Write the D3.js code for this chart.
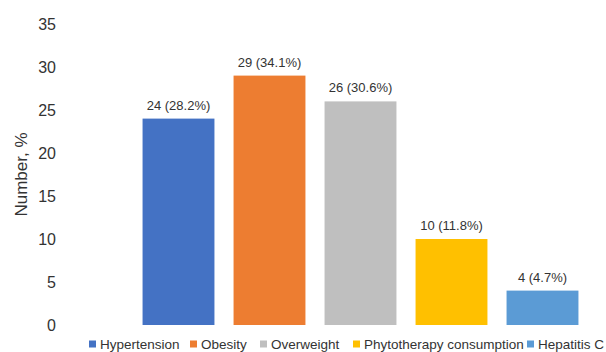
<!DOCTYPE html>
<html>
<head>
<meta charset="utf-8">
<script src="https://cdn.jsdelivr.net/npm/d3@7"></script>
<style>
  body { margin: 0; background: #fff; }
  svg text { font-family: "Liberation Sans", Arial, Helvetica, sans-serif; fill: #333; }
</style>
</head>
<body>
<svg id="drawing_region"></svg>
<script>
// data
const categories = ['Hypertension', 'Obesity', 'Overweight', 'Phytotherapy consumption', 'Hepatitis C'];
const counts = [24, 29, 26, 10, 4];
const percents = ['28.2%', '34.1%', '30.6%', '11.8%', '4.7%'];
const colors = ['#4472C4', '#ED7D31', '#BFBFBF', '#FFC000', '#5B9BD5'];
const yTicks = [0, 5, 10, 15, 20, 25, 30, 35];

const config = {
    width: 606,
    height: 352,
    plotLeft: 133,
    plotRight: 588,
    plotTop: 24,
    plotBottom: 325,
    legendY: 344,
    legendX: [89, 190, 260, 353, 527]
};

const svg = d3.select('#drawing_region')
    .attr('width', config.width)
    .attr('height', config.height);

const x = d3.scaleBand()
    .domain(categories)
    .range([config.plotLeft, config.plotRight])
    .paddingInner(0.21)
    .paddingOuter(0.105);

const y = d3.scaleLinear()
    .domain([0, 35])
    .range([config.plotBottom, config.plotTop]);

// y axis labels, no line
const yAxis = d3.axisLeft(y).tickValues(yTicks).tickSize(0).tickPadding(0);
const yg = svg.append('g')
    .attr('transform', 'translate(56,0)')
    .call(yAxis);
yg.select('.domain').remove();
yg.selectAll('text')
    .style('font-size', '16px')
    .style('font-family', '"Liberation Sans", Arial, sans-serif')
    .attr('fill', '#333');

svg.append('text')
    .attr('transform', `translate(27,${(config.plotTop + config.plotBottom) / 2}) rotate(-90)`)
    .attr('text-anchor', 'middle')
    .style('font-size', '17px')
    .text('Number, %');

// bars
svg.selectAll('rect.bar')
    .data(categories)
    .enter()
    .append('rect')
    .attr('class', 'bar')
    .attr('x', d => x(d))
    .attr('width', x.bandwidth())
    .attr('y', (d, i) => y(counts[i]))
    .attr('height', (d, i) => y(0) - y(counts[i]))
    .attr('fill', (d, i) => colors[i]);

svg.selectAll('text.val')
    .data(categories)
    .enter()
    .append('text')
    .attr('class', 'val')
    .attr('x', d => x(d) + x.bandwidth() / 2)
    .attr('y', (d, i) => y(counts[i]) - 9)
    .attr('text-anchor', 'middle')
    .style('font-size', '13px')
    .text((d, i) => `${counts[i]} (${percents[i]})`);

// legend
const legend = svg.selectAll('g.legend')
    .data(categories)
    .enter()
    .append('g')
    .attr('class', 'legend')
    .attr('transform', (d, i) => `translate(${config.legendX[i]},${config.legendY})`);

legend.append('rect')
    .attr('x', 0)
    .attr('y', -3.5)
    .attr('width', 7)
    .attr('height', 7)
    .attr('fill', (d, i) => colors[i]);

legend.append('text')
    .attr('x', 11)
    .attr('dy', '0.35em')
    .style('font-size', '13.5px')
    .text(d => d);
</script>
</body>
</html>
